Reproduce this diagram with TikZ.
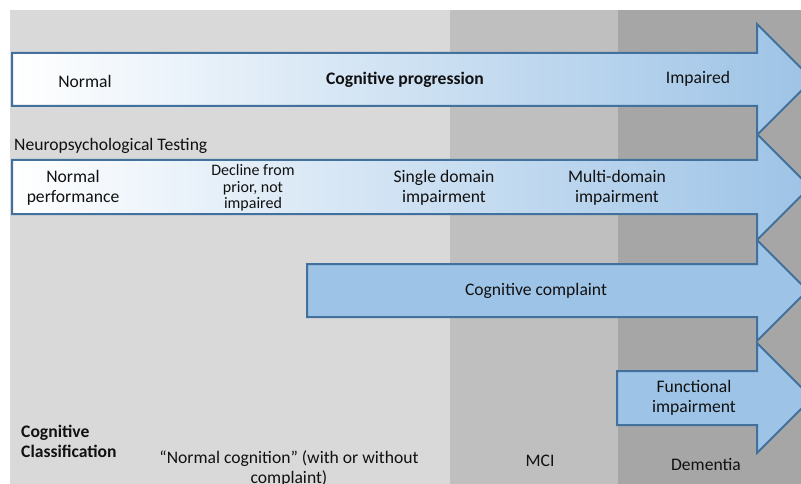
\documentclass[tikz,border=0pt]{standalone}
\usepackage{fontspec}
\setmainfont{Carlito}
\definecolor{gA}{HTML}{D9D9D9}
\definecolor{gB}{HTML}{BFBFBF}
\definecolor{gC}{HTML}{A6A6A6}
\definecolor{ablue}{HTML}{9DC3E6}
\definecolor{aedge}{HTML}{41719C}
\definecolor{txt}{HTML}{111111}
\tikzset{
  arr/.style={draw=aedge, line width=2pt, line join=miter},
  gradarr/.style={arr, left color=white, right color=ablue},
  solidarr/.style={arr, fill=ablue},
  lbl/.style={text=txt, font=\fontsize{17.6}{20}\selectfont, align=center, inner sep=0pt},
  boldlbl/.style={lbl, font=\fontsize{17.6}{20}\selectfont\bfseries},
  small/.style={text=txt, font=\fontsize{16}{16.5}\selectfont, align=center, inner sep=0pt}
}
\begin{document}
\begin{tikzpicture}[x=1pt,y=-1pt]
\useasboundingbox (0,0) rectangle (801,484);
\clip (0,0) rectangle (801,484);
\fill[white] (0,0) rectangle (801,484);
% background bands
\fill[gA] (10,10) rectangle (450,484);
\fill[gB] (450,10) rectangle (618,484);
\fill[gC] (618,10) rectangle (801,484);
% arrows
\draw[gradarr] (12,53) -- (757,53) -- (757,24) -- (812.5,79.5) -- (757,135) -- (757,106) -- (12,106) -- cycle;
\draw[gradarr] (12,160) -- (757,160) -- (757,134) -- (810,187) -- (757,240) -- (757,214) -- (12,214) -- cycle;
\draw[solidarr] (307,264) -- (757,264) -- (757,240) -- (807.5,290.5) -- (757,341) -- (757,317) -- (307,317) -- cycle;
\draw[solidarr] (617,371) -- (757,371) -- (757,343) -- (812,398) -- (757,453) -- (757,425) -- (617,425) -- cycle;
% texts
\node[lbl] (normal) at (85,81) {Normal};
\node[boldlbl] (prog) at (405,80) {Cognitive progression};
\node[lbl] (impaired) at (698,79) {Impaired};
\node[lbl, anchor=west] (npt) at (14,146) {Neuropsychological Testing};
\node[lbl] (normperf) at (73,188) {Normal\\performance};
\node[small] (decline) at (253,188) {Decline from\\prior, not\\impaired};
\node[lbl] (single) at (444,188) {Single domain\\impairment};
\node[lbl] (multi) at (617,188) {Multi-domain\\impairment};
\node[lbl] (complaint) at (536,291) {Cognitive complaint};
\node[lbl] (functional) at (694,398) {Functional\\impairment};
\node[boldlbl, align=left, anchor=north west] (classif) at (21,425) {Cognitive\\Classification};
\node[lbl, anchor=north] (normcog) at (289,450) {“Normal cognition” (with or without\\complaint)};
\node[lbl] (mci) at (540,461) {MCI};
\node[lbl] (dementia) at (706,464) {Dementia};
\end{tikzpicture}
\end{document}
